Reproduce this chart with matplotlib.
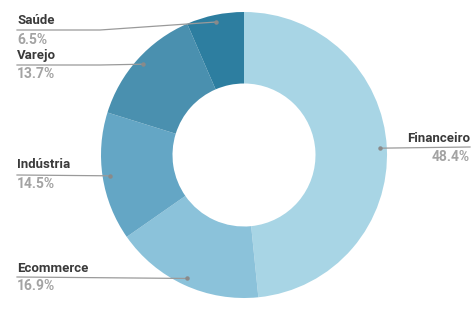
import numpy as np
import matplotlib.pyplot as plt

labels = ['Financeiro', 'Ecommerce', 'Indústria', 'Varejo', 'Saúde']
values = [48.4, 16.9, 14.5, 13.7, 6.5]
colors = ['#a8d5e5', '#8bc2da', '#64a6c5', '#4a90af', '#2d7ea0']

W, H = 473, 315
fig = plt.figure(figsize=(W / 100, H / 100), dpi=100)
ax = fig.add_axes([0, 0, 1, 1])

cx, cy, R = 244, H - 155, 143
wedges, _ = ax.pie(values, colors=colors, startangle=90, counterclock=False,
                   radius=R, center=(cx, cy), frame=True,
                   wedgeprops=dict(width=R * 0.5, linewidth=0))
ax.set_xlim(0, W)
ax.set_ylim(0, H)
ax.axis('off')

# label placement (pixels from top-left): text x, name y, line y, pct y, align, bend x
layout = {
    'Saúde':      (17, 20, 30, 40, 'left', 100),
    'Varejo':     (17, 55, 65, 74, 'left', 100),
    'Indústria':  (17, 165, 175, 184, 'left', None),
    'Ecommerce':  (17, 268, 277, 286, 'left', None),
    'Financeiro': (470, 138, 147, 157, 'right', None),
}

font = ['Roboto', 'DejaVu Sans']
for w, lab, val in zip(wedges, labels, values):
    ang = np.deg2rad((w.theta1 + w.theta2) / 2)
    px = cx + 0.95 * R * np.cos(ang)
    py = cy + 0.95 * R * np.sin(ang)
    tx, ny, ly, pct_y, ha, bend = layout[lab]
    ly = H - ly
    if bend is None:
        xs, ys = [tx, px], [ly, py]
    else:
        xs, ys = [tx, bend, px], [ly, ly, py]
    ax.plot(xs, ys, color='#9a9a9a', lw=0.9, zorder=3)
    ax.plot(px, py, 'o', color='#8a8a8a', ms=2.2, zorder=4)
    ax.text(tx, H - ny, lab, ha=ha, va='center', fontsize=9.5,
            fontweight='bold', color='#3a3a3a', family=font)
    ax.text(tx, H - pct_y, f'{val}%', ha=ha, va='center', fontsize=10,
            fontweight='bold', color='#a3a3a3', family=font)

fig.savefig('out.png', dpi=100)
